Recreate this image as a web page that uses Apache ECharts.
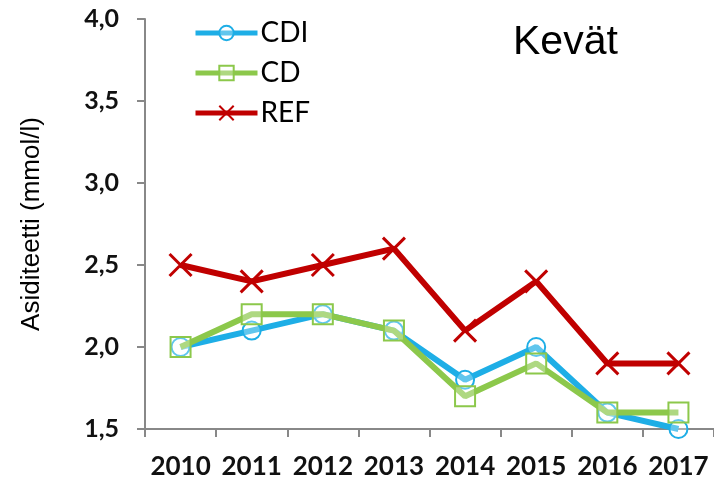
<!DOCTYPE html>
<html><head><meta charset="utf-8">
<script src="https://cdn.jsdelivr.net/npm/echarts@6/dist/echarts.min.js"></script>
<style>html,body{margin:0;padding:0;background:#fff}#c{width:714px;height:485px}</style>
</head><body><div id="c"></div>
<script>
const years = ['2010','2011','2012','2013','2014','2015','2016','2017'];
const cdi = [2.0, 2.1, 2.2, 2.1, 1.8, 2.0, 1.6, 1.5];
const cd  = [2.0, 2.2, 2.2, 2.1, 1.7, 1.9, 1.6, 1.6];
const ref = [2.5, 2.4, 2.5, 2.6, 2.1, 2.4, 1.9, 1.9];
const chart = echarts.init(document.getElementById('c'));
const xPath = 'path://M0,0L10,10M10,0L0,10';
chart.setOption({
  animation: false,
  grid: {left: 145, right: -4, top: 19, bottom: 56},
  title: {text: 'Kevät', left: 508, top: 17, textStyle: {fontFamily: 'Liberation Sans', fontSize: 41, fontWeight: 'normal', color: '#000'}},
  legend: {
    orient: 'vertical', left: 188, top: 14, itemWidth: 62, itemHeight: 18, itemGap: 12,
    lineStyle: {width: 5},
    textStyle: {fontFamily: 'Lato', fontSize: 28, color: '#000', padding: [0,0,0,-2]},
    data: ['CDI','CD','REF']
  },
  xAxis: {
    type: 'category', data: years, boundaryGap: true,
    axisLine: {lineStyle: {color: '#888', width: 2}},
    axisTick: {show: true, length: 8, lineStyle: {color: '#888', width: 2}},
    axisLabel: {interval: 0, fontFamily: 'Lato', fontSize: 26, fontWeight: 'bold', color: '#111', margin: 25}
  },
  yAxis: {
    type: 'value', min: 1.5, max: 4.0, interval: 0.5,
    name: 'Asiditeetti (mmol/l)', nameLocation: 'middle', nameGap: 100,
    nameTextStyle: {fontFamily: 'Liberation Sans', fontSize: 26, color: '#000'},
    axisLine: {show: true, lineStyle: {color: '#888', width: 2}},
    axisTick: {show: true, length: 8, lineStyle: {color: '#888', width: 2}},
    splitLine: {show: false},
    axisLabel: {fontFamily: 'Lato', fontSize: 25, fontWeight: 'bold', color: '#111', margin: 26,
      formatter: v => v.toFixed(1).replace('.', ',')}
  },
  series: [
    {name: 'REF', type: 'line', data: ref, z: 3,
      symbol: xPath, symbolSize: 22,
      lineStyle: {color: '#c00000', width: 6},
      itemStyle: {color: 'rgba(0,0,0,0)', borderColor: '#c00000', borderWidth: 3}},
    {name: 'CDI', type: 'line', data: cdi, z: 4,
      symbol: 'circle', symbolSize: 18,
      lineStyle: {color: '#1eaee6', width: 6},
      itemStyle: {color: 'rgba(255,255,255,0.3)', borderColor: '#1eaee6', borderWidth: 2}},
    {name: 'CD', type: 'line', data: cd, z: 5,
      symbol: 'rect', symbolSize: 20,
      lineStyle: {color: '#8cc84b', width: 6},
      itemStyle: {color: 'rgba(255,255,255,0.3)', borderColor: '#8cc84b', borderWidth: 2}}
  ]
});
</script></body></html>
